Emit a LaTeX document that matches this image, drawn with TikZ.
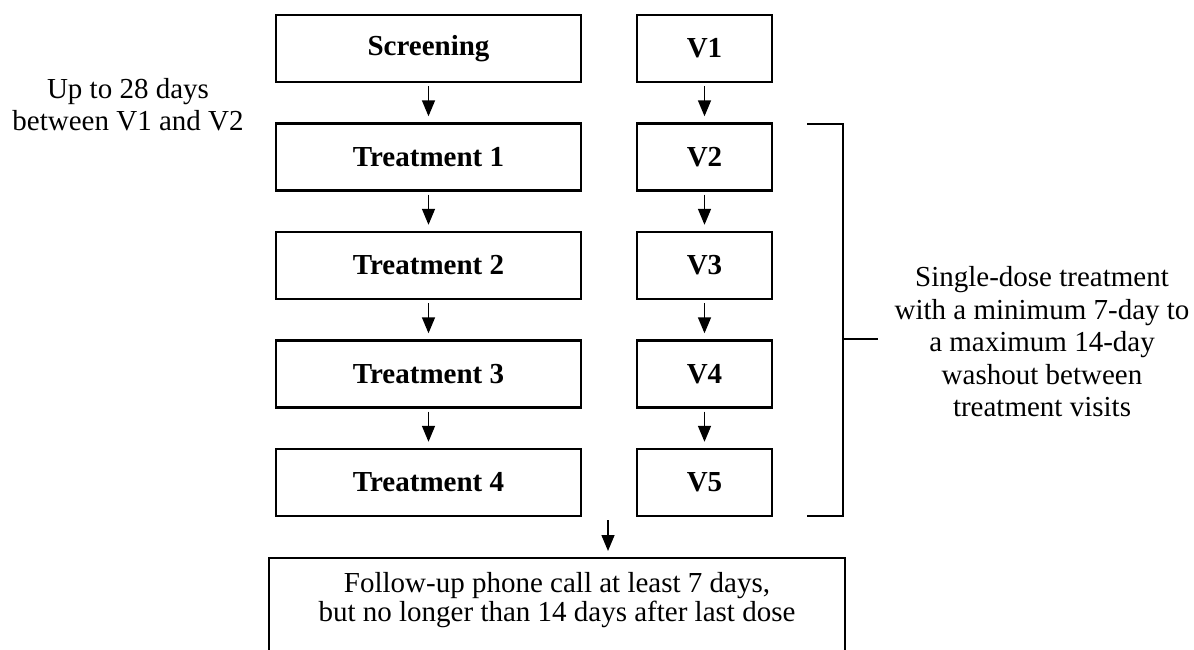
\documentclass[tikz,border=0pt]{standalone}
\usepackage{fontspec}
\setmainfont{Liberation Serif}
\usetikzlibrary{arrows.meta}
\begin{document}
\begin{tikzpicture}[x=1pt,y=-1pt,
  box/.style={draw,line width=2.4pt,inner sep=0pt,minimum height=67pt,font=\fontsize{29}{32}\selectfont\bfseries},
  lbox/.style={box,minimum width=305pt},
  rbox/.style={box,minimum width=135pt},
  arr/.style={line width=1.5pt,-{Triangle[width=13pt,length=16pt]},shorten <=3pt,shorten >=6pt},
  note/.style={align=center,inner sep=0pt},
  bracket/.style={line width=2.4pt}]
\clip (0,0) rectangle (1194,650);
\fill[white] (0,0) rectangle (1194,650);
% left column
\node[lbox] (s)  at (428.5,48.5)  {Screening};
\node[lbox] (t1) at (428.5,157)   {Treatment 1};
\node[lbox] (t2) at (428.5,265.5) {Treatment 2};
\node[lbox] (t3) at (428.5,374)   {Treatment 3};
\node[lbox] (t4) at (428.5,482.5) {Treatment 4};
% right column
\node[rbox] (v1) at (704.5,48.5)  {V1};
\node[rbox] (v2) at (704.5,157)   {V2};
\node[rbox] (v3) at (704.5,265.5) {V3};
\node[rbox] (v4) at (704.5,374)   {V4};
\node[rbox] (v5) at (704.5,482.5) {V5};
\foreach \a/\b in {s/t1,t1/t2,t2/t3,t3/t4,v1/v2,v2/v3,v3/v4,v4/v5}
  \draw[arr] (\a) -- (\b);
% follow-up
\node[draw,line width=2.4pt,minimum width=576pt,minimum height=110pt,inner sep=0pt,anchor=north] (fu) at (557,557) {};
\node[note,font=\fontsize{29}{29}\selectfont] (futext) at (557,600)
  {Follow-up phone call at least 7 days,\\but no longer than 14 days after last dose};
\coordinate (fa) at (608,517);
\draw[arr] (fa) -- (fa |- fu.north);
% left note
\node[note,font=\fontsize{29}{32}\selectfont] (ln) at (128,105) {Up to 28 days\\between V1 and V2};
% bracket
\coordinate (bt) at (807,124);
\coordinate (bb) at (807,516);
\coordinate (bm) at (843,339);
\coordinate (bx) at (878,339);
\draw[bracket] (bt) -- (bt -| bm) -- (bb -| bm) -- (bb);
\draw[bracket] (bm) -- (bx);
\node[note,font=\fontsize{29}{32.5}\selectfont] (rn) at (1042,342)
  {Single-dose treatment\\with a minimum 7-day to\\a maximum 14-day\\washout between\\treatment visits};
\end{tikzpicture}
\end{document}
